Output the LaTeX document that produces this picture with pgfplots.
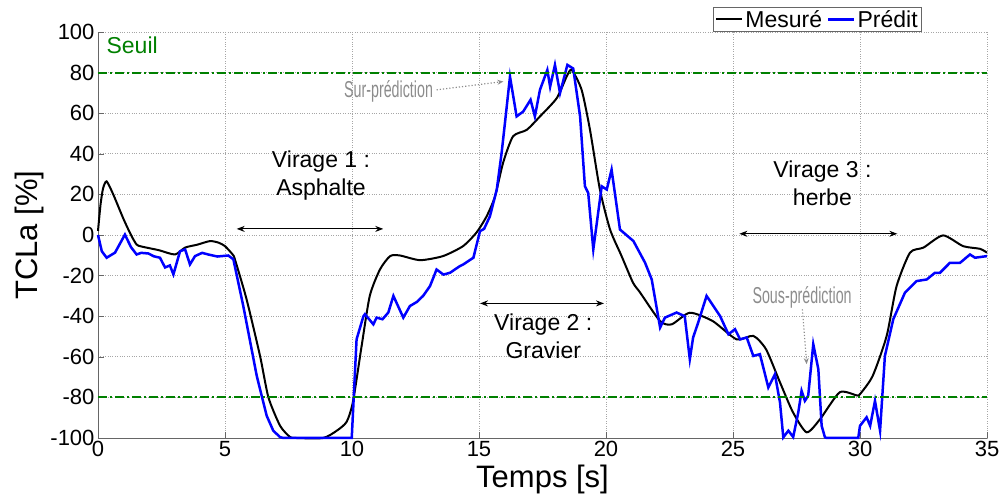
\documentclass[border=0pt]{standalone}
\usepackage{fontspec}
\setmainfont{Liberation Sans}
\usepackage{pgfplots}
\pgfplotsset{compat=1.18}
\usetikzlibrary{arrows.meta}

\definecolor{seuil}{rgb}{0,0.5,0}
\definecolor{annot}{gray}{0.55}

\begin{document}
\begin{tikzpicture}
\useasboundingbox (-98pt,-64pt) rectangle (904pt,438pt);
\begin{axis}[
    at={(0,0)}, anchor=south west,
    scale only axis,
    width=889pt, height=406pt,
    xmin=0, xmax=35,
    ymin=-100, ymax=100,
    xtick={0,5,...,35},
    ytick={-100,-80,...,100},
    axis x line*=bottom,
    axis y line*=left,
    axis line style={draw=gray!80!black, -},
    tick align=inside,
    major tick length=6pt,
    tick style={gray!80!black},
    xmajorgrids=true, ymajorgrids=true,
    grid style={dotted, gray!70, line width=0.8pt},
    /pgf/number format/assume math mode=true,
    ticklabel style={font=\fontsize{22}{22}\selectfont},
    xlabel={Temps [s]},
    ylabel={TCLa [\%]},
    label style={font=\fontsize{31}{31}\selectfont},
    xlabel style={yshift=-1pt},
    clip=false,
    legend columns=2,
    legend style={at={(0.692,1.0616)}, anchor=north west,
      font=\fontsize{23}{23}\selectfont, draw=gray!80!black,
      inner xsep=2pt, inner ysep=1pt,
      /tikz/every even column/.append style={column sep=3pt}},
    legend image code/.code={\draw[#1] (0pt,0pt) -- (26pt,0pt);},
]

\addplot[black, line width=2pt, smooth, tension=0.4] coordinates {
(0,2) (0.1,15) (0.2,23) (0.34,26.4) (0.6,20) (1.0,8) (1.3,0) (1.52,-4.7)
(1.72,-5.7) (2.4,-7.5) (3.03,-9.6) (3.43,-6.2) (3.9,-4.8) (4.41,-3)
(4.75,-3.8) (5.0,-5.5) (5.3,-9.6) (5.39,-12) (5.85,-31.7) (6.38,-59.6)
(6.71,-80) (7.17,-94) (7.56,-99.5) (7.8,-100) (8.86,-100) (9.4,-96.4)
(9.79,-92) (10.04,-82) (10.38,-54.6) (10.7,-30) (11.1,-17) (11.5,-10.4)
(11.89,-10.1) (12.68,-12.4) (13.58,-10.4) (14.37,-5.5) (14.9,1.2)
(15.3,9.2) (15.63,19) (15.95,35.6) (16.34,48.6) (16.88,51.8) (17.4,58.4)
(18.06,67.4) (18.45,78) (18.65,81.3) (19.04,71.5) (19.37,51.8)
(19.76,22.4) (20.16,2.7) (20.6,-10) (21.06,-23.4) (21.34,-28.3)
(22.13,-42.4) (22.59,-44) (23.3,-38.3) (24.2,-42.4) (25.14,-51.4)
(25.8,-49.7) (26.3,-56.3) (26.85,-72.6) (27.36,-87.3) (27.9,-97.2)
(28.43,-90.7) (29.2,-77.5) (29.87,-79) (30.0,-78.4) (30.5,-69.4)
(31.05,-49.7) (31.44,-25.2) (31.97,-8.7) (32.5,-6.2) (33.27,-0.2)
(34.06,-5.5) (34.72,-6.8) (35,-8.7)
};
\addlegendentry{Mesuré}

\addplot[blue, line width=2.5pt] coordinates {
(0,0) (0.15,-8) (0.34,-11.2) (0.67,-8.7) (1.06,0.2) (1.3,-6) (1.52,-9.6)
(1.7,-8.8) (1.98,-9.1) (2.2,-10.5) (2.44,-11.2) (2.64,-16) (2.83,-15) (2.97,-19.4) (3.23,-8)
(3.43,-7.1) (3.62,-14.5) (3.82,-10.4) (4.1,-8.8) (4.34,-9.6) (4.7,-10.6) (5.13,-10.1) (5.33,-12)
(5.72,-35) (6.25,-69.4) (6.64,-89) (6.9,-96.4) (7.17,-99.6) (7.3,-100)
(9.99,-100) (10.18,-51.4) (10.45,-40) (10.51,-39) (10.84,-44) (10.97,-40.7)
(11.2,-41.5) (11.43,-38.2) (11.63,-30) (12.02,-40.7) (12.28,-35) (12.55,-33) (12.8,-30) (13.07,-25.2)
(13.33,-17) (13.6,-19.5) (13.86,-18.6) (14.25,-15.3) (14.38,-14.5) (14.78,-11.2)
(15.04,1.9) (15.2,3) (15.43,9.2) (15.7,22.4) (15.89,40.4) (16.02,55) (16.22,78)
(16.48,58.4) (16.74,60.8) (17.03,66.6) (17.2,58.4) (17.4,71.5) (17.69,81.3)
(17.8,73) (17.99,83.8) (18.19,69.9) (18.48,83.8) (18.71,82) (18.98,58.4)
(19.17,24) (19.3,20.7) (19.5,-7.1) (19.83,24) (20.03,22.4) (20.22,32.2)
(20.55,2.7) (21.08,-3) (21.54,-13.7) (21.8,-21.9) (22.13,-45.6)
(22.32,-40.7) (22.78,-38.2) (23.1,-40) (23.3,-61.2) (23.43,-50.5)
(23.63,-43.1) (23.96,-30) (24.49,-39.9) (24.82,-48.9) (25.08,-46.4)
(25.28,-51.4) (25.54,-50.5) (25.8,-59.6) (26.06,-58.7) (26.39,-75.1)
(26.65,-68.6) (26.85,-82.5) (26.98,-99.7) (27.18,-96.4) (27.37,-99.5)
(27.57,-87.4) (27.7,-76.8) (27.83,-81.7) (27.96,-79.2) (28.16,-53.8)
(28.36,-66.1) (28.49,-94) (28.62,-99.7) (28.7,-100) (29.93,-100)
(30.0,-94) (30.26,-89.8) (30.4,-94) (30.59,-81.7) (30.79,-96.4)
(30.98,-59.6) (31.31,-41.5) (31.77,-28.4) (32.23,-22.7) (32.63,-21.9)
(32.95,-18.6) (33.15,-18.6) (33.54,-13.7) (33.94,-13.7) (34.33,-9.6)
(34.53,-11.2) (35,-10.4)
};
\addlegendentry{Prédit}

% seuils
\addplot[seuil, line width=2pt, dash pattern=on 9pt off 3pt on 2pt off 3pt, forget plot]
  coordinates {(0,80) (35,80)};
\addplot[seuil, line width=2pt, dash pattern=on 9pt off 3pt on 2pt off 3pt, forget plot]
  coordinates {(0,-80) (35,-80)};

\node[anchor=west, text=seuil, font=\fontsize{23}{23}\selectfont]
  at (axis cs:0.2,93.6) {Seuil};

% virages
\node[align=center, font=\fontsize{23}{28}\selectfont] at (axis cs:8.78,29.2) {Virage 1 :\\Asphalte};
\node[align=center, font=\fontsize{23}{28}\selectfont] at (axis cs:17.53,-49.7) {Virage 2 :\\Gravier};
\node[align=center, font=\fontsize{23}{28}\selectfont] at (axis cs:28.52,25.5) {Virage 3 :\\herbe};

\draw[{Stealth[length=8pt,width=6pt]}-{Stealth[length=8pt,width=6pt]}, line width=1pt]
  (axis cs:5.46,3.0) -- (axis cs:11.23,3.0);
\draw[{Stealth[length=8pt,width=6pt]}-{Stealth[length=8pt,width=6pt]}, line width=1pt]
  (axis cs:15.04,-33.7) -- (axis cs:19.92,-33.7);
\draw[{Stealth[length=8pt,width=6pt]}-{Stealth[length=8pt,width=6pt]}, line width=1pt]
  (axis cs:25.25,0.6) -- (axis cs:31.47,0.6);

% sur / sous prediction
\node[text=annot, font=\fontsize{23}{23}\selectfont] at (axis cs:11.44,70.7)
  {\scalebox{0.62}[1]{Sur-prédiction}};
\draw[annot, dotted, line width=1.2pt, -{Stealth[length=6pt,width=5pt]}]
  (axis cs:13.33,71.5) -- (axis cs:15.96,75.6);
\node[text=annot, font=\fontsize{23}{23}\selectfont] at (axis cs:27.72,-30.9)
  {\scalebox{0.62}[1]{Sous-prédiction}};
\draw[annot, dotted, line width=1.2pt, -{Stealth[length=6pt,width=5pt]}]
  (axis cs:27.73,-36.6) -- (axis cs:27.9,-63.6);

\end{axis}
\end{tikzpicture}
\end{document}
